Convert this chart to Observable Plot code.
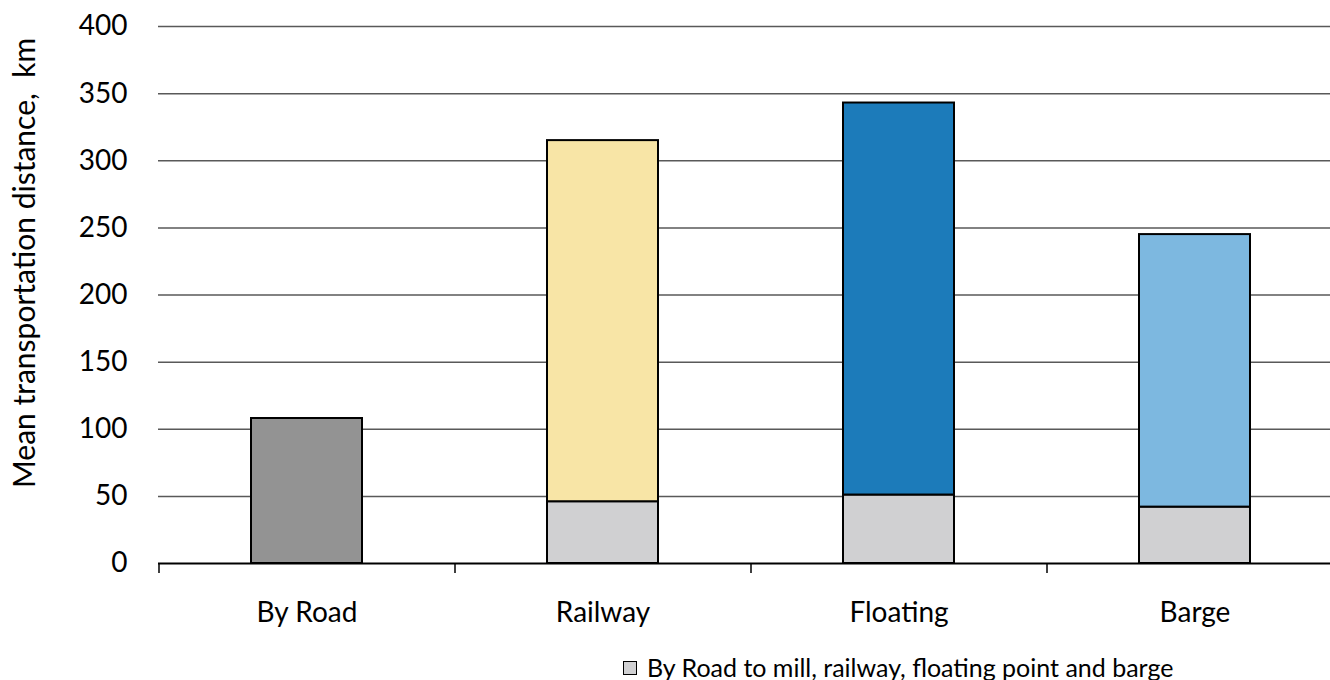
<!DOCTYPE html>
<html>
<head>
<meta charset="utf-8">
<script src="https://cdn.jsdelivr.net/npm/d3@7"></script>
<script src="https://cdn.jsdelivr.net/npm/@observablehq/plot@0.6"></script>
<style>
  html, body { margin: 0; padding: 0; background: white; overflow: hidden; }
  #wrap { position: relative; width: 1330px; height: 680px; overflow: hidden; font-family: Lato, sans-serif; }
  #chart svg { max-width: none !important; }
  #legend { position: absolute; left: 623px; top: 655px; height: 25px; line-height: 25px; display: flex; align-items: center; font-size: 25px; color: #000; white-space: nowrap; }
  #legend .sw { width: 12px; height: 12px; border: 1.5px solid #000; margin-right: 10px; }
</style>
</head>
<body>
<div id="wrap"><div id="chart"></div><div id="legend"></div></div>
<script>
const categories = ["By Road", "Railway", "Floating", "Barge"];
const totalDistance = [108, 315, 343, 245];
const roadToPoint = [0, 46, 51, 42];
const barColors = ["#939393", "#F8E5A6", "#1C7BBA", "#7DB8E0"];
const baseColor = "#D0D0D2";
const yTicks = [0, 50, 100, 150, 200, 250, 300, 350, 400];
const yLabel = "Mean transportation distance,  km";
const legendLabel = "By Road to mill, railway, floating point and barge";

const rows = categories.map((c, i) => ({
  category: c, base: roadToPoint[i], total: totalDistance[i], color: barColors[i]
}));

const W = 1345, left = 158, right = 3;
const step = (W - left - right) / categories.length;

const chart = Plot.plot({
  width: W,
  height: 640,
  marginLeft: left,
  marginRight: right,
  marginTop: 26,
  marginBottom: 77,
  style: { fontFamily: "Lato, sans-serif", color: "#000", background: "white" },
  x: { domain: categories, paddingInner: 0.625, paddingOuter: 0.3125, label: null },
  y: { domain: [0, 400], label: null },
  color: { type: "identity" },
  marks: [
    Plot.ruleY(yTicks.filter(t => t > 0), { stroke: "#595959", strokeWidth: 1.5 }),
    Plot.barY(rows.filter(d => d.base > 0), { x: "category", y1: 0, y2: "base", fill: baseColor, stroke: "#000", strokeWidth: 2 }),
    Plot.barY(rows, { x: "category", y1: "base", y2: "total", fill: "color", stroke: "#000", strokeWidth: 2 }),
    Plot.ruleY([0], { stroke: "#000", strokeWidth: 2 }),
    Plot.axisX({ tickSize: 10, tickFormat: () => "", dx: -step / 2, strokeWidth: 1.5 }),
    Plot.axisX({ tickSize: 0, tickPadding: 39, fontSize: 28 }),
    Plot.axisY({ ticks: yTicks, tickSize: 0, tickPadding: 31, fontSize: 28, label: null }),
    Plot.text([yLabel], { frameAnchor: "left", textAnchor: "middle", rotate: -90, dx: -133, dy: -32, fontSize: 30, fill: "#000" })
  ]
});
document.getElementById("chart").appendChild(chart);

const lg = document.getElementById("legend");
const sw = document.createElement("span");
sw.className = "sw";
sw.style.background = baseColor;
lg.appendChild(sw);
const tx = document.createElement("span");
tx.textContent = legendLabel;
lg.appendChild(tx);
</script>
</body>
</html>
